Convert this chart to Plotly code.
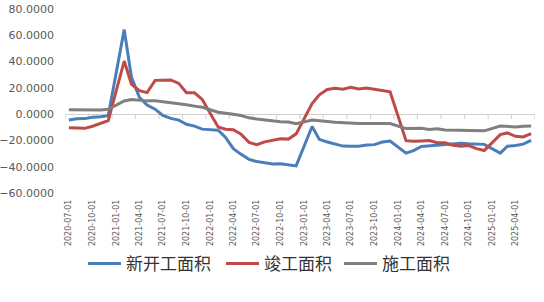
import plotly.graph_objects as go

months = (
    ["2020-07-01", "2020-08-01", "2020-09-01", "2020-10-01", "2020-11-01", "2020-12-01"]
    + ["2021-%02d-01" % m for m in range(2, 13)]
    + ["2022-%02d-01" % m for m in range(2, 13)]
    + ["2023-%02d-01" % m for m in range(2, 13)]
    + ["2024-%02d-01" % m for m in range(2, 13)]
    + ["2025-%02d-01" % m for m in range(2, 7)]
)

new_start = [
    -4.5, -3.6, -3.4, -2.4, -2.0, -1.2,
    64.3, 28.2, 12.8, 6.9, 3.8, -0.9, -3.2, -4.5, -7.7, -9.1, -11.4,
    -12.2, -17.5, -26.3, -30.6, -34.4, -36.1, -37.2, -38.0, -37.8, -38.9, -39.4,
    -9.4, -19.2, -21.2, -22.6, -24.3, -24.5, -24.4, -23.4, -23.2, -21.2, -20.4,
    -29.7, -27.8, -24.6, -24.2, -23.7, -23.2, -22.5, -22.2, -22.6, -23.0, -23.0,
    -29.6, -24.4, -23.8, -22.8, -20.0,
]

completed = [
    -10.4, -10.8, -10.8, -9.2, -7.3, -4.9,
    40.4, 22.9, 17.9, 16.4, 25.7, 25.7, 26.0, 23.4, 16.3, 16.2, 11.2,
    -9.8, -11.5, -11.9, -15.3, -21.5, -23.3, -21.1, -19.9, -18.7, -19.0, -15.0,
    8.0, 14.7, 18.8, 19.6, 19.0, 20.5, 19.2, 19.8, 19.0, 17.9, 17.0,
    -20.2, -20.7, -20.4, -20.1, -21.8, -21.8, -23.6, -24.4, -23.9, -26.2, -27.7,
    -15.6, -14.3, -16.9, -17.3, -14.8,
]

under_construction = [
    3.4, 3.3, 3.1, 3.0, 3.2, 3.7,
    10.0, 11.2, 10.5, 10.1, 10.2, 9.5, 8.9, 7.9, 7.1, 6.1, 5.2,
    1.5, 1.0, -0.1, -1.0, -2.8, -3.7, -4.5, -5.3, -5.7, -6.0, -7.2,
    -4.4, -5.2, -5.6, -6.2, -6.6, -6.8, -7.1, -7.1, -7.3, -7.2, -7.2,
    -11.0, -11.1, -10.8, -11.6, -11.1, -12.1, -12.0, -12.2, -12.4, -12.7, -12.7,
    -9.1, -9.5, -9.7, -9.2, -9.1,
]

series_names = ["新开工面积", "竣工面积", "施工面积"]
series_colors = ["#4A7EBB", "#BE4B48", "#7F7F7F"]

x_tick_labels = [
    "2020-07-01", "2020-10-01", "2021-01-01", "2021-04-01", "2021-07-01",
    "2021-10-01", "2022-01-01", "2022-04-01", "2022-07-01", "2022-10-01",
    "2023-01-01", "2023-04-01", "2023-07-01", "2023-10-01", "2024-01-01",
    "2024-04-01", "2024-07-01", "2024-10-01", "2025-01-01", "2025-04-01",
]
# quarter boundaries (tick marks on the y = 0 axis sit between monthly slots)
quarter_bounds = [
    "2020-06-16", "2020-09-16", "2020-12-16", "2021-03-16", "2021-06-16",
    "2021-09-16", "2021-12-16", "2022-03-16", "2022-06-16", "2022-09-16",
    "2022-12-16", "2023-03-16", "2023-06-16", "2023-09-16", "2023-12-16",
    "2024-03-16", "2024-06-16", "2024-09-16", "2024-12-16", "2025-03-16",
    "2025-06-16",
]
y_ticks = [-60, -40, -20, 0, 20, 40, 60, 80]

x_range = ["2020-06-16", "2025-06-16"]
y_range = [-60, 80]

W, H = 544, 302
M = dict(l=65, r=9, t=9, b=109)
plot_h = H - M["t"] - M["b"]
tick_len_px = 5
tick_len_units = tick_len_px * (y_range[1] - y_range[0]) / plot_h

axis_grey = "#D0D0D0"

fig = go.Figure()

# tick marks hanging below the zero axis line (drawn first, under the series)
fig.add_trace(go.Scatter(
    x=quarter_bounds, y=[0] * len(quarter_bounds), mode="markers",
    marker=dict(size=1, opacity=0), showlegend=False, hoverinfo="skip",
    error_y=dict(type="data", symmetric=False, array=[0] * len(quarter_bounds),
                 arrayminus=[tick_len_units] * len(quarter_bounds),
                 width=0, thickness=1, color=axis_grey),
    cliponaxis=False,
))

legend_widths = [90, 70, 70]
for name, vals, col, lw in zip(series_names, [new_start, completed, under_construction],
                               series_colors, legend_widths):
    fig.add_trace(go.Scatter(
        x=months, y=vals, mode="lines", name=name,
        line=dict(color=col, width=3), legendwidth=lw,
    ))

tick_font = dict(family="DejaVu Sans", color="#595959")

fig.update_layout(
    width=W, height=H,
    margin=M,
    paper_bgcolor="white", plot_bgcolor="white",
    showlegend=True,
    legend=dict(
        orientation="h", x=0.0383, xanchor="left", y=-0.385, yanchor="middle",
        font=dict(family="Noto Sans CJK SC", size=17, color="#333333"),
        itemwidth=33, bgcolor="rgba(0,0,0,0)",
    ),
    xaxis=dict(
        type="date", range=x_range,
        tickvals=x_tick_labels, ticktext=x_tick_labels,
        tickangle=-90, ticks="", showline=False, showgrid=False, zeroline=False,
        tickfont=dict(size=8, **tick_font), ticklabelstandoff=4,
        automargin=False,
    ),
    yaxis=dict(
        range=y_range, tickvals=y_ticks, tickformat=".4f",
        ticks="", showline=False, showgrid=False,
        zeroline=True, zerolinecolor=axis_grey, zerolinewidth=1,
        tickfont=dict(size=11, **tick_font), ticklabelstandoff=10,
        automargin=False,
    ),
)

fig.write_html("out.html")
